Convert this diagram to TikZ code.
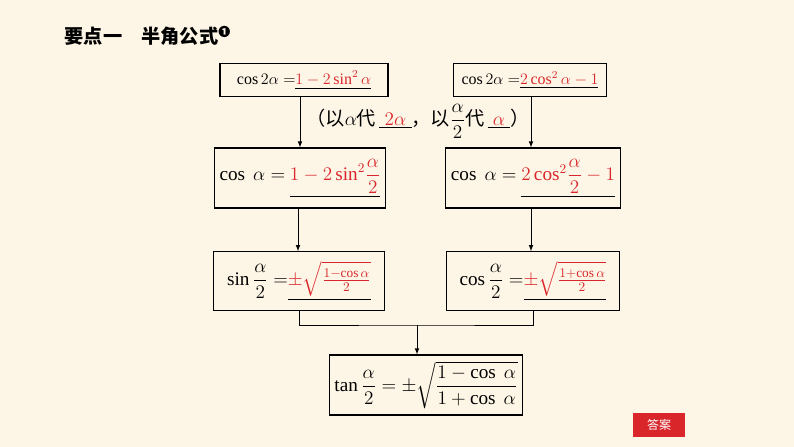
\documentclass[tikz,border=0pt]{standalone}
\usepackage{amsmath}
\usepackage{fontspec}
\setmainfont{Liberation Serif}
\newfontfamily\cjk{Noto Sans CJK SC}
\usetikzlibrary{positioning}
\definecolor{paper}{HTML}{FDF6E6}
\definecolor{ansred}{HTML}{D9262B}
\newcommand{\blank}[1]{\underline{\textcolor{ansred}{#1}}}
\begin{document}
\begin{tikzpicture}[x=0.75pt,y=-0.75pt,
    box/.style={draw,thick,fill=paper,inner sep=4pt,font=\large},
    link/.style={-latex,semithick}]
\fill[paper] (0,0) rectangle (794,447);
\useasboundingbox (0,0) rectangle (794,447);
\node[anchor=west,font=\cjk\bfseries\Large] (title) at (60,36) {要点一\quad 半角公式\textsuperscript{\small ❶}};
% top row
\node[box,minimum width=126pt,minimum height=25pt] (cosa) at (304,80) {$\cos 2\alpha=$\blank{$1-2\sin^2\alpha$}};
\node[box,minimum width=115pt,minimum height=25pt] (cosb) at (530,80) {$\cos 2\alpha=$\blank{$2\cos^2\alpha-1$}};
\node[font=\Large] (hint) at (418,121) {{\cjk（以}$\alpha${\cjk 代}\,\blank{$\;2\alpha\;$}{\cjk ，以}$\dfrac{\alpha}{2}${\cjk 代}\,\blank{$\;\alpha\;$}{\cjk ）}};
% middle row
\node[box,font=\Large,minimum width=128pt,minimum height=45pt] (halfa) at (300,178) {$\cos\ \alpha=$\ \blank{$1-2\sin^2\!\dfrac{\alpha}{2}$}};
\node[box,font=\Large,minimum width=130pt,minimum height=45pt] (halfb) at (533,178) {$\cos\ \alpha=$\ \blank{$2\cos^2\!\dfrac{\alpha}{2}-1$}};
% bottom row
\node[box,font=\Large,minimum width=128pt,minimum height=44pt] (sinh) at (299,281) {$\sin\dfrac{\alpha}{2}=$\blank{$\pm\sqrt{\frac{1-\cos\alpha}{2}}$}};
\node[box,font=\Large,minimum width=130pt,minimum height=44pt] (cosh) at (533,281) {$\cos\dfrac{\alpha}{2}=$\blank{$\pm\sqrt{\frac{1+\cos\alpha}{2}}$}};
\node[box,font=\Large,minimum width=129pt,minimum height=45pt] (tanh) at (426,385) {$\tan\dfrac{\alpha}{2}=\pm\sqrt{\dfrac{1-\cos\ \alpha}{1+\cos\ \alpha}}$};
\coordinate (merge) at (417,325);
\draw[link] (cosa.south -| halfa.north) -- (halfa.north);
\draw[link] (cosb.south -| 531,0) -- (531,0 |- halfb.north);
\draw[link] (298,0 |- halfa.south) -- (298,0 |- sinh.north);
\draw[link] (531,0 |- halfb.south) -- (531,0 |- cosh.north);
\draw[semithick] (sinh.south) |- (merge) -| (cosh.south);
\draw[link] (merge) -- (merge |- tanh.north);
% answer button
\node[fill=ansred,text=white,font=\cjk\small,minimum width=39pt,minimum height=18pt] (answer) at (659,425) {答案};
\end{tikzpicture}
\end{document}
